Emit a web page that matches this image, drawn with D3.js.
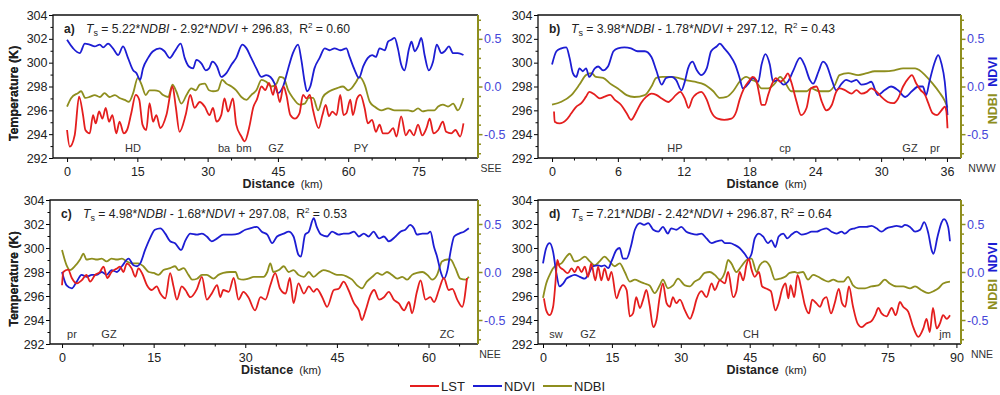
<!DOCTYPE html>
<html>
<head>
<meta charset="utf-8">
<script src="https://cdn.jsdelivr.net/npm/d3@7"></script>
<style>
  body { margin: 0; background: #fff; }
  svg text { font-family: Arial, "Liberation Sans", sans-serif; fill: #222; }
</style>
</head>
<body>
<div id="chart"></div>
<script>
var svgWidth = 1000;
var svgHeight = 395;

var red = "#e41e1e";
var blue = "#1d1dd3";
var olive = "#8e8e1e";
var nb = "\u00a0";

// ---- data: [distance km, value] ----
var lstA = [[0,294.35],[0.57,292.95],[1.64,293.93],[2.56,297.15],[3.41,295.6],[3.91,294.35],[4.84,294.07],[5.55,295.6],[6.12,294.9],[6.83,295.9],[7.54,295.3],[8.25,296.2],[8.96,295.05],[9.67,295.6],[10.5,294.07],[11.2,295.05],[12.1,294.07],[12.8,294.35],[13.7,295.75],[14.65,297.3],[15.4,296.9],[16.1,294.8],[16.9,294.35],[17.6,296.6],[18.35,295.05],[19.06,295.6],[19.9,294.5],[21.2,295.6],[22.5,298.0],[23.2,296.3],[24.0,294.2],[25.3,295.6],[26.3,297.3],[27.2,296.2],[28.3,296.7],[29.4,296.3],[30.4,295.6],[31.15,296.2],[31.9,295.05],[32.9,295.6],[33.6,297.0],[34.35,295.9],[35.4,297.0],[36.1,294.8],[37.2,293.8],[37.9,293.4],[39.0,294.8],[39.7,296.2],[40.5,296.9],[41.5,298.0],[42.3,297.7],[43.1,298.3],[43.95,297.3],[44.5,298.1],[45.4,296.7],[46.2,298.0],[46.8,297.3],[47.65,295.6],[48.6,295.3],[49.6,295.75],[50.35,297.3],[51.1,297.0],[51.8,297.3],[52.5,296.0],[53.7,294.5],[54.5,295.6],[55.2,296.45],[55.9,295.5],[56.6,295.9],[57.5,295.6],[58.3,297.3],[59.0,295.6],[59.6,295.75],[60.45,296.9],[61.0,295.6],[61.9,297.0],[62.6,297.3],[63.5,296.2],[64.2,294.9],[65.1,295.2],[65.9,294.2],[66.7,294.8],[67.4,294.07],[68.5,294.07],[69.6,294.5],[70.3,293.8],[71.3,295.5],[72.3,293.9],[73.1,294.35],[74.0,293.9],[74.9,294.8],[75.8,293.9],[76.7,294.5],[77.4,295.3],[78.2,294.07],[79.2,294.35],[80.2,295.05],[80.9,294.2],[82.0,294.07],[82.9,294.35],[83.9,293.8],[84.6,294.9]];
var ndviA = [[0,0.49],[1.3,0.40],[2.7,0.35],[3.8,0.45],[4.8,0.44],[5.9,0.42],[7.0,0.44],[7.7,0.41],[8.75,0.45],[9.8,0.40],[10.9,0.33],[11.95,0.42],[13.0,0.30],[14.1,0.17],[14.8,0.14],[15.6,0.07],[16.2,0.19],[17.3,0.30],[18.35,0.37],[19.8,0.40],[20.8,0.37],[21.9,0.30],[23.0,0.37],[24.25,0.45],[25.1,0.30],[26.0,0.21],[26.9,0.19],[27.6,0.28],[28.7,0.24],[29.6,0.17],[30.3,0.19],[31.0,0.26],[32.0,0.21],[32.9,0.10],[34.0,0.14],[35.1,0.23],[36.1,0.30],[37.4,0.44],[38.3,0.40],[39.3,0.30],[40.4,0.19],[41.5,0.10],[42.5,0.12],[43.4,0.10],[44.3,0.03],[45.0,-0.07],[46.1,0.0],[47.2,0.19],[48.2,0.35],[49.3,0.44],[50.0,0.28],[50.7,0.05],[51.2,-0.05],[51.9,0.0],[52.8,0.19],[53.9,0.30],[55.0,0.40],[56.0,0.38],[57.1,0.40],[58.3,0.38],[59.6,0.40],[60.3,0.31],[61.4,0.17],[62.3,0.09],[63.2,0.21],[64.2,0.30],[65.1,0.33],[65.9,0.31],[66.7,0.40],[67.8,0.38],[68.5,0.47],[69.2,0.49],[69.9,0.51],[70.6,0.40],[71.3,0.23],[72.0,0.17],[73.0,0.40],[73.5,0.47],[74.2,0.37],[74.9,0.42],[75.6,0.51],[76.3,0.33],[77.2,0.17],[78.1,0.26],[78.9,0.44],[79.9,0.35],[80.6,0.37],[81.5,0.42],[82.4,0.35],[83.4,0.35],[84.6,0.33]];
var ndbiA = [[0,-0.21],[0.9,-0.12],[2.3,-0.07],[3.0,-0.05],[3.9,-0.12],[4.8,-0.11],[5.9,-0.09],[7.0,-0.11],[8.0,-0.07],[9.1,-0.11],[10.2,-0.09],[11.2,-0.12],[12.3,-0.14],[13.2,-0.16],[14.1,-0.07],[15.1,0.09],[15.9,0.02],[16.8,-0.09],[17.6,-0.04],[18.7,-0.04],[19.6,-0.05],[20.5,-0.09],[21.6,-0.11],[22.5,0.02],[23.3,-0.05],[24.4,-0.18],[25.5,-0.09],[26.5,-0.02],[27.5,-0.04],[28.3,0.02],[29.4,0.03],[30.3,-0.04],[31.15,-0.05],[32.2,-0.04],[33.1,0.07],[34.0,0.03],[35.1,0.0],[36.1,-0.04],[37.2,-0.11],[38.3,-0.14],[39.3,-0.09],[40.4,-0.04],[41.5,0.07],[42.5,0.05],[43.6,0.0],[44.7,0.03],[45.4,0.10],[46.2,0.09],[47.2,-0.04],[48.2,-0.12],[49.6,-0.19],[50.7,-0.18],[51.6,-0.12],[52.5,-0.12],[53.6,-0.25],[54.6,-0.11],[56.0,-0.05],[57.5,-0.02],[58.9,0.0],[60.0,-0.04],[60.7,-0.02],[61.7,0.05],[62.4,0.10],[63.5,0.02],[64.6,-0.16],[65.6,-0.21],[67.1,-0.25],[68.5,-0.23],[69.9,-0.25],[71.3,-0.25],[72.8,-0.25],[73.8,-0.26],[74.9,-0.23],[75.9,-0.26],[77.0,-0.25],[78.4,-0.25],[79.2,-0.21],[80.2,-0.19],[81.3,-0.21],[82.4,-0.18],[83.4,-0.25],[84.6,-0.12]];

var lstB = [[0.18,295.9],[0.24,295.05],[0.7,294.9],[1.3,295.2],[1.76,295.75],[2.2,296.3],[2.67,296.6],[3.1,297.15],[3.4,297.55],[3.9,297.3],[4.35,297.0],[4.8,297.15],[5.3,297.3],[5.7,296.9],[6.3,296.45],[6.8,295.75],[7.2,295.2],[7.7,295.9],[8.1,296.6],[8.6,297.15],[9.06,297.4],[9.5,297.3],[10.0,297.0],[10.6,296.7],[10.9,296.9],[11.3,297.3],[11.7,297.55],[12.1,297.0],[12.45,296.2],[12.8,297.0],[13.2,297.4],[13.6,297.55],[14.1,296.9],[14.5,295.9],[15.1,295.3],[15.7,295.2],[16.35,295.3],[16.8,295.9],[17.1,296.9],[17.5,297.85],[17.9,298.4],[18.3,298.8],[18.6,298.55],[18.9,297.3],[19.1,296.45],[19.4,296.45],[19.7,297.3],[20.0,298.1],[20.4,298.7],[20.8,298.4],[21.2,298.7],[21.5,299.1],[21.8,298.4],[22.3,296.7],[22.7,295.6],[23.2,296.2],[23.6,297.85],[24.1,298.0],[24.6,296.7],[25.0,296.0],[25.5,296.45],[25.9,297.55],[26.2,297.85],[26.7,297.7],[27.3,297.4],[27.75,297.7],[28.2,297.4],[28.7,297.55],[29.1,297.85],[29.6,297.55],[30.0,297.15],[30.6,296.7],[31.1,296.6],[31.55,297.0],[32.0,298.0],[32.5,298.7],[32.8,298.95],[33.2,298.25],[33.6,297.7],[34.0,297.3],[34.3,296.6],[34.7,295.75],[35.1,295.6],[35.5,296.0],[35.8,296.3],[35.95,295.9],[36.05,294.5]];
var ndviB = [[0,0.23],[0.4,0.37],[0.85,0.40],[1.3,0.41],[1.6,0.30],[1.9,0.14],[2.2,0.10],[2.5,0.19],[2.8,0.16],[3.1,0.19],[3.4,0.10],[3.9,0.19],[4.2,0.21],[4.65,0.17],[5.1,0.21],[5.6,0.37],[6.0,0.40],[6.6,0.41],[7.2,0.40],[7.8,0.37],[8.45,0.37],[9.06,0.31],[9.5,0.17],[10.0,0.02],[10.4,0.09],[10.9,0.10],[11.3,0.07],[11.8,-0.04],[12.1,0.05],[12.4,0.19],[12.8,0.26],[13.2,0.17],[13.6,0.12],[14.1,0.19],[14.5,0.37],[15.0,0.42],[15.3,0.45],[15.7,0.40],[16.2,0.33],[16.7,0.23],[17.1,0.09],[17.4,-0.02],[17.9,0.03],[18.3,0.09],[18.8,0.05],[19.1,0.23],[19.45,0.34],[19.85,0.23],[20.15,0.05],[20.6,0.07],[21.1,0.02],[21.5,0.05],[22.0,0.17],[22.6,0.30],[23.0,0.23],[23.5,0.07],[23.8,0.03],[24.3,0.16],[24.7,0.26],[25.0,0.23],[25.5,0.07],[25.9,-0.04],[26.4,0.03],[26.8,0.07],[27.3,0.05],[27.75,0.07],[28.2,0.02],[28.7,0.03],[29.1,0.05],[29.7,-0.09],[30.3,-0.04],[30.9,0.0],[31.55,-0.04],[32.2,-0.11],[32.8,-0.05],[33.4,0.0],[33.8,0.0],[34.1,-0.09],[34.4,0.05],[34.9,0.26],[35.2,0.33],[35.5,0.24],[35.8,0.05],[36.05,-0.3]];
var ndbiB = [[0,-0.19],[0.85,-0.16],[1.76,-0.09],[2.5,0.02],[3.1,0.12],[3.6,0.14],[4.0,0.10],[4.65,0.09],[5.3,0.03],[6.0,-0.02],[6.8,-0.09],[7.5,-0.11],[8.45,-0.09],[9.06,0.0],[9.5,0.09],[10.1,0.10],[10.9,0.10],[11.5,0.09],[12.1,0.07],[13.0,0.05],[13.9,0.02],[14.7,-0.05],[15.3,-0.12],[15.9,-0.11],[16.5,-0.05],[17.1,0.05],[17.7,0.10],[18.2,0.07],[18.6,0.05],[19.1,-0.02],[19.7,-0.02],[20.3,0.03],[20.8,0.10],[21.2,0.05],[21.8,-0.05],[22.6,-0.05],[23.2,-0.05],[23.6,-0.02],[24.4,-0.05],[25.2,-0.05],[25.8,0.02],[26.2,0.12],[27.0,0.14],[27.9,0.12],[28.7,0.14],[29.4,0.16],[30.3,0.16],[31.2,0.17],[32.0,0.19],[32.6,0.19],[33.1,0.19],[33.5,0.17],[34.0,0.12],[34.7,0.03],[35.3,-0.06],[35.8,-0.15],[36.05,-0.22]];

var lstC = [[0,296.9],[0.2,298.0],[1.0,298.2],[1.6,297.5],[2.4,297.05],[3.2,297.3],[4.0,297.75],[4.6,297.2],[5.4,297.75],[6.2,298.0],[6.8,298.45],[7.4,297.5],[8.1,298.0],[9.0,298.3],[9.5,298.45],[10.05,298.0],[10.6,298.7],[11.4,298.3],[12.0,297.6],[12.5,298.3],[13.1,297.9],[13.9,296.9],[14.7,296.5],[15.5,296.8],[16.1,296.2],[16.9,295.8],[17.7,297.9],[18.25,296.8],[18.8,295.7],[19.6,296.8],[20.2,296.5],[21.0,295.9],[22.1,296.6],[22.9,297.6],[23.7,295.7],[24.5,296.2],[25.4,296.9],[25.9,295.9],[26.4,296.5],[27.3,296.35],[28.1,297.5],[28.9,295.7],[29.7,296.35],[30.5,295.9],[31.6,294.8],[32.5,295.9],[33.3,295.7],[34.1,296.9],[34.9,297.9],[35.7,296.6],[36.6,296.2],[37.3,297.5],[37.9,295.4],[38.7,297.05],[39.6,296.2],[40.4,296.8],[41.2,296.35],[41.7,296.6],[42.6,295.9],[43.4,295.1],[44.5,296.5],[45.3,296.6],[46.1,297.2],[46.9,296.5],[47.8,295.4],[48.6,294.8],[49.1,294.0],[49.7,294.8],[50.5,296.1],[51.1,296.5],[51.9,295.7],[52.7,295.9],[53.5,296.35],[54.3,295.7],[55.1,295.4],[56.0,294.8],[56.8,295.5],[57.3,294.55],[58.1,296.35],[58.7,297.3],[59.5,295.7],[60.3,295.9],[60.9,295.5],[61.7,296.5],[62.5,297.5],[63.3,296.5],[63.9,296.6],[64.7,295.7],[65.5,295.1],[66.3,297.5]];
var ndviC = [[0,0.0],[0.75,-0.14],[1.6,-0.17],[2.4,-0.10],[3.2,-0.03],[4.0,-0.05],[4.9,-0.03],[5.7,-0.03],[6.5,0.0],[7.3,-0.03],[8.1,0.02],[9.0,0.0],[9.8,0.06],[10.9,0.14],[11.7,0.07],[12.3,0.06],[12.8,0.09],[13.6,0.23],[14.4,0.35],[15.2,0.44],[16.1,0.455],[16.9,0.40],[17.7,0.32],[18.5,0.30],[19.5,0.23],[20.2,0.33],[21.0,0.40],[22.1,0.39],[22.9,0.40],[23.7,0.37],[24.5,0.32],[25.4,0.35],[26.4,0.39],[27.8,0.39],[28.9,0.40],[30.0,0.44],[30.8,0.455],[31.9,0.47],[32.7,0.42],[33.6,0.39],[34.4,0.30],[35.2,0.37],[36.3,0.40],[37.1,0.42],[37.9,0.37],[38.7,0.18],[39.1,0.16],[39.8,0.39],[40.4,0.42],[41.2,0.56],[41.7,0.47],[42.4,0.39],[43.4,0.37],[44.2,0.42],[45.3,0.39],[46.1,0.40],[46.9,0.40],[47.8,0.42],[48.6,0.37],[49.4,0.40],[50.2,0.37],[51.0,0.42],[51.9,0.35],[52.7,0.37],[53.5,0.32],[54.6,0.37],[55.4,0.42],[56.2,0.44],[57.0,0.49],[57.6,0.455],[58.1,0.39],[59.0,0.40],[59.8,0.40],[60.3,0.42],[60.9,0.26],[61.4,0.16],[62.0,0.0],[62.5,-0.07],[63.1,0.02],[63.6,0.21],[64.2,0.37],[65.0,0.40],[65.8,0.42],[66.6,0.455]];
var ndbiC = [[0,0.23],[0.75,0.07],[1.3,0.02],[2.1,0.06],[2.95,0.13],[3.5,0.19],[4.0,0.13],[4.9,0.14],[5.7,0.13],[6.5,0.14],[7.3,0.11],[8.1,0.14],[9.0,0.13],[9.8,0.14],[10.6,0.11],[11.4,0.09],[12.5,0.09],[13.3,0.06],[14.2,0.0],[15.0,-0.01],[15.8,-0.03],[16.6,0.02],[17.7,0.04],[18.5,0.06],[19.1,0.02],[19.9,0.04],[20.7,-0.03],[21.3,-0.08],[22.1,-0.07],[22.9,-0.03],[23.7,-0.03],[24.8,-0.07],[25.6,-0.03],[26.4,-0.01],[27.5,0.0],[28.4,0.0],[28.9,-0.07],[29.7,-0.08],[30.5,-0.07],[31.4,-0.05],[32.2,-0.05],[33.0,-0.05],[33.6,0.0],[34.1,0.09],[34.6,0.0],[35.5,0.02],[36.3,0.06],[37.1,0.0],[37.9,0.02],[38.7,-0.03],[39.6,-0.05],[40.4,0.0],[41.2,-0.05],[42.0,-0.01],[42.8,0.02],[43.9,0.0],[45.0,-0.03],[45.8,-0.03],[46.7,-0.05],[47.5,-0.08],[48.3,-0.14],[49.1,-0.17],[49.9,-0.10],[50.8,-0.05],[51.6,-0.01],[52.4,-0.03],[53.2,0.0],[54.0,-0.03],[54.9,-0.07],[55.7,-0.05],[56.5,-0.08],[57.3,-0.03],[58.1,-0.01],[59.0,0.0],[59.8,-0.03],[60.6,-0.08],[61.4,-0.03],[62.2,0.11],[63.1,0.13],[63.6,0.13],[64.4,0.04],[65.2,-0.07],[66.1,-0.08],[66.6,-0.05]];

var lstD = [[0.2,295.8],[0.7,294.8],[1.45,294.4],[2.2,295.1],[2.7,297.05],[3.1,299.0],[3.6,298.45],[4.4,298.2],[5.4,297.9],[6.2,298.3],[6.9,298.0],[7.6,298.45],[8.4,298.0],[9.1,298.45],[9.8,297.6],[10.5,298.7],[11.4,297.3],[12.0,298.45],[12.7,297.3],[13.4,298.3],[14.2,297.3],[14.9,298.0],[16.0,295.8],[16.7,296.5],[17.4,296.9],[18.2,296.5],[18.9,294.3],[19.6,294.55],[20.3,295.9],[21.1,295.0],[21.8,295.7],[22.5,296.5],[23.2,295.25],[24.0,293.4],[24.7,294.0],[25.4,295.9],[26.1,297.05],[26.9,295.4],[27.6,295.1],[28.3,295.9],[29.0,295.4],[29.8,295.7],[30.9,294.8],[32.0,294.1],[32.7,294.7],[33.4,295.7],[34.5,296.4],[35.6,295.9],[36.7,297.05],[37.4,296.5],[38.5,297.3],[39.6,297.05],[40.3,298.0],[41.4,295.9],[42.1,296.4],[42.8,298.0],[43.6,297.3],[44.3,298.6],[44.8,299.1],[45.4,298.2],[46.1,297.6],[47.0,298.0],[47.7,296.8],[48.7,296.6],[49.6,296.4],[50.6,294.8],[51.3,295.4],[52.1,296.6],[52.8,297.05],[53.4,295.8],[53.9,296.9],[54.7,295.9],[55.4,297.75],[56.3,296.5],[57.0,295.25],[57.9,294.55],[58.6,295.7],[59.5,295.4],[60.3,295.1],[61.0,295.7],[61.7,295.9],[62.7,294.55],[63.5,295.4],[64.4,296.6],[65.1,295.4],[65.8,295.1],[66.6,296.8],[67.5,295.1],[68.5,293.7],[69.4,293.4],[70.4,293.7],[71.5,293.9],[72.3,294.4],[73.0,295.0],[73.7,294.55],[74.8,294.3],[75.9,295.0],[76.8,294.4],[77.7,295.5],[78.4,295.1],[79.5,294.7],[80.6,293.4],[81.7,292.6],[82.8,293.3],[83.5,294.1],[84.2,293.0],[84.9,295.0],[85.7,293.3],[86.4,293.7],[87.1,294.4],[87.9,294.1],[88.6,294.4]];
var ndviD = [[0,0.09],[0.7,0.25],[1.45,0.30],[2.2,0.21],[2.9,-0.01],[3.6,-0.15],[4.4,-0.12],[5.1,-0.07],[5.8,-0.05],[6.9,-0.03],[8.0,-0.05],[9.1,-0.07],[9.8,-0.03],[10.9,0.06],[12.0,0.07],[12.7,0.06],[13.4,0.07],[14.2,0.04],[14.9,0.11],[16.0,0.23],[16.7,0.25],[17.4,0.14],[18.2,0.14],[19.1,0.26],[20.0,0.44],[21.1,0.51],[22.0,0.49],[22.9,0.51],[24.0,0.44],[25.1,0.42],[26.1,0.47],[27.2,0.40],[27.9,0.455],[29.0,0.44],[30.1,0.47],[31.2,0.42],[32.3,0.40],[33.4,0.39],[34.5,0.40],[35.6,0.35],[36.7,0.30],[37.8,0.32],[38.9,0.33],[39.6,0.30],[40.7,0.30],[41.8,0.28],[42.8,0.25],[43.9,0.19],[44.7,0.14],[45.4,0.19],[46.1,0.35],[47.0,0.40],[47.9,0.37],[49.0,0.30],[49.7,0.33],[50.6,0.26],[51.3,0.37],[52.3,0.40],[53.2,0.35],[54.1,0.39],[55.2,0.42],[56.3,0.39],[57.4,0.40],[58.5,0.42],[59.5,0.42],[60.6,0.44],[61.7,0.455],[62.8,0.42],[63.9,0.40],[65.0,0.42],[65.7,0.40],[66.8,0.44],[67.9,0.455],[69.0,0.47],[70.4,0.47],[71.5,0.48],[72.6,0.455],[73.7,0.42],[74.8,0.455],[75.9,0.47],[77.0,0.48],[78.1,0.47],[78.8,0.49],[79.9,0.47],[81.0,0.42],[82.1,0.44],[83.0,0.52],[83.9,0.40],[84.6,0.23],[85.0,0.19],[85.9,0.37],[86.8,0.52],[87.3,0.55],[88.2,0.47],[88.6,0.32]];
var ndbiD = [[0,-0.27],[0.7,-0.12],[1.45,-0.03],[2.2,0.04],[2.9,0.07],[4.0,0.09],[5.1,0.16],[5.8,0.19],[6.9,0.11],[8.0,0.125],[9.1,0.16],[10.2,0.11],[11.3,0.07],[12.3,0.11],[13.4,0.16],[14.5,0.11],[15.6,0.06],[16.7,0.09],[17.8,0.0],[18.9,-0.10],[20.0,-0.08],[21.1,-0.10],[22.1,-0.12],[23.2,-0.14],[24.3,-0.22],[25.4,-0.14],[26.1,-0.08],[27.2,-0.17],[28.3,-0.14],[29.4,-0.07],[30.9,-0.14],[32.0,-0.15],[33.0,-0.10],[34.1,-0.07],[35.2,-0.01],[36.3,0.0],[37.4,-0.03],[38.5,-0.08],[39.6,0.0],[40.3,0.125],[41.0,0.09],[42.1,0.0],[43.2,0.06],[44.3,0.125],[45.4,0.14],[46.5,0.0],[47.2,0.07],[48.3,0.11],[49.4,0.06],[50.5,-0.08],[51.6,-0.07],[52.7,-0.05],[53.7,-0.01],[54.8,0.0],[55.5,-0.01],[56.6,0.0],[57.7,-0.08],[58.8,-0.03],[59.9,-0.05],[61.0,-0.08],[62.1,-0.10],[63.2,-0.08],[64.3,-0.10],[65.4,-0.10],[66.4,-0.05],[67.5,-0.14],[68.6,-0.17],[70.1,-0.17],[71.5,-0.15],[73.0,-0.14],[74.4,-0.08],[75.5,-0.12],[77.0,-0.15],[78.4,-0.15],[79.9,-0.17],[81.0,-0.15],[82.4,-0.19],[83.9,-0.22],[85.0,-0.20],[86.1,-0.17],[87.1,-0.12],[88.6,-0.10]];

// tick values
var tempTicks = [292, 294, 296, 298, 300, 302, 304];
var indexTicks = [-0.5, 0.0, 0.5];
var distTicksA = [0, 15, 30, 45, 60, 75];
var distTicksB = [0, 6, 12, 18, 24, 30, 36];
var distTicksC = [0, 15, 30, 45, 60];
var distTicksD = [0, 15, 30, 45, 60, 75, 90];

var panels = [
  { tag: "a)", coef: ["5.22", "2.92", "296.83", "0.60"], sep: "," + nb + nb,
    left: 53, right: 478, top: 15, bottom: 158, xDomain: [-3, 87.7], xTicks: distTicksA, minorStep: 5,
    lst: lstA, ndvi: ndviA, ndbi: ndbiA, dir: "SEE", dirX: 491, rightTitle: false,
    places: [["HD", 133], ["ba", 224], ["bm", 244], ["GZ", 276], ["PY", 361]] },
  { tag: "b)", coef: ["3.98", "1.78", "297.12", "0.43"], sep: "," + nb + nb,
    left: 538, right: 961, top: 15, bottom: 158, xDomain: [-1.28, 37.28], xTicks: distTicksB, minorStep: 2,
    lst: lstB, ndvi: ndviB, ndbi: ndbiB, dir: "NWW", dirX: 982, rightTitle: true,
    places: [["HP", 675], ["cp", 785], ["GZ", 910], ["pr", 935]] },
  { tag: "c)", coef: ["4.98", "1.68", "297.08", "0.53"], sep: "," + nb + nb,
    left: 50, right: 478, top: 200, bottom: 344, xDomain: [-1.97, 68.1], xTicks: distTicksC, minorStep: 5,
    lst: lstC, ndvi: ndviC, ndbi: ndbiC, dir: "NEE", dirX: 490, rightTitle: false,
    places: [["pr", 72], ["GZ", 109], ["ZC", 447]] },
  { tag: "d)", coef: ["7.21", "2.42", "296.87", "0.64"], sep: "," + nb,
    left: 538, right: 961, top: 200, bottom: 344, xDomain: [-1.09, 91.0], xTicks: distTicksD, minorStep: 5,
    lst: lstD, ndvi: ndviD, ndbi: ndbiD, dir: "NNE", dirX: 982, rightTitle: true,
    places: [["sw", 556], ["GZ", 588], ["CH", 751], ["jm", 945]] }
];

var svg = d3.select("#chart")
  .append("svg")
  .attr("width", svgWidth)
  .attr("height", svgHeight);

function drawPanel(p) {
  var g = svg.append("g");

  var x = d3.scaleLinear().domain(p.xDomain).range([p.left, p.right]);
  var yT = d3.scaleLinear().domain([292, 304]).range([p.bottom, p.top]);
  var yI = d3.scaleLinear().domain([-0.75, 0.75]).range([p.bottom, p.top]);

  // minor ticks
  var xMinor = d3.range(0, p.xDomain[1], p.minorStep).filter(d => p.xTicks.indexOf(d) < 0);
  var tMinor = d3.range(293, 304, 2);
  var iMinor = d3.range(-7, 8).map(d => d / 10).filter(d => Math.abs(d) != 0.5 && d != 0);

  g.append("g")
    .attr("transform", `translate(0,${p.bottom})`)
    .call(d3.axisBottom(x).tickValues(xMinor).tickSize(2.5).tickFormat(""))
    .call(a => a.select(".domain").remove());
  var xAxis = g.append("g")
    .attr("transform", `translate(0,${p.bottom})`)
    .call(d3.axisBottom(x).tickValues(p.xTicks).tickSize(4).tickPadding(5).tickFormat(d3.format("d")));
  xAxis.select(".domain").remove();
  xAxis.selectAll("text").style("font-size", "12.5px").attr("fill", "#222");

  g.append("g")
    .attr("transform", `translate(${p.left},0)`)
    .call(d3.axisLeft(yT).tickValues(tMinor).tickSize(2.5).tickFormat(""))
    .call(a => a.select(".domain").remove());
  var yAxis = g.append("g")
    .attr("transform", `translate(${p.left},0)`)
    .call(d3.axisLeft(yT).tickValues(tempTicks).tickSize(4).tickPadding(1.5));
  yAxis.select(".domain").remove();
  yAxis.selectAll("text").style("font-size", "12.5px").attr("fill", "#222");

  g.append("g")
    .attr("transform", `translate(${p.right},0)`)
    .call(d3.axisRight(yI).tickValues(iMinor).tickSize(3).tickFormat(""))
    .call(a => a.select(".domain").remove())
    .selectAll("line").attr("stroke", olive).attr("stroke-width", 1.5);
  var rAxis = g.append("g")
    .attr("transform", `translate(${p.right},0)`)
    .call(d3.axisRight(yI).tickValues(indexTicks).tickSize(4.5).tickPadding(1.5).tickFormat(d => d.toFixed(1)));
  rAxis.select(".domain").remove();
  rAxis.selectAll("line").attr("stroke", olive).attr("stroke-width", 1.5);
  rAxis.selectAll("text").style("font-size", "12.5px").style("fill", "#4646d8");

  // frame
  g.append("path")
    .attr("d", `M${p.right},${p.top}H${p.left}V${p.bottom}H${p.right}`)
    .attr("fill", "none")
    .attr("stroke", "#111")
    .attr("stroke-width", 1.3);
  g.append("line")
    .attr("x1", p.right).attr("x2", p.right)
    .attr("y1", p.top).attr("y2", p.bottom)
    .attr("stroke", olive)
    .attr("stroke-width", 2);

  // curves
  var lineT = d3.line().x(d => x(d[0])).y(d => yT(d[1])).curve(d3.curveMonotoneX);
  var lineI = d3.line().x(d => x(d[0])).y(d => yI(d[1])).curve(d3.curveMonotoneX);
  [[p.ndbi, olive, lineI], [p.ndvi, blue, lineI], [p.lst, red, lineT]].forEach(function(s) {
    g.append("path")
      .datum(s[0])
      .attr("d", s[2])
      .attr("fill", "none")
      .attr("stroke", s[1])
      .attr("stroke-width", 1.8)
      .attr("stroke-linejoin", "round");
  });

  // equation
  g.append("text")
    .attr("x", p.left + 11)
    .attr("y", p.top + 18)
    .style("font-size", "12px")
    .style("font-weight", "bold")
    .text(p.tag);
  var eq = g.append("text")
    .attr("x", p.left + 33)
    .attr("y", p.top + 18)
    .style("font-size", "12.2px");
  eq.append("tspan").style("font-style", "italic").text("T");
  eq.append("tspan").attr("dy", 3).style("font-size", "9px").text("s");
  eq.append("tspan").attr("dy", -3).text(" = " + p.coef[0] + "*");
  eq.append("tspan").style("font-style", "italic").text("NDBI");
  eq.append("tspan").text(" - " + p.coef[1] + "*");
  eq.append("tspan").style("font-style", "italic").text("NDVI");
  eq.append("tspan").text(" + " + p.coef[2] + p.sep + "R");
  eq.append("tspan").attr("dy", -5).style("font-size", "8px").text("2");
  eq.append("tspan").attr("dy", 5).text(" = " + p.coef[3]);

  // place names
  g.selectAll(".place")
    .data(p.places)
    .enter()
    .append("text")
    .attr("x", d => d[1])
    .attr("y", p.bottom - 6)
    .attr("text-anchor", "middle")
    .style("font-size", "11px")
    .style("fill", "#333")
    .text(d => d[0]);

  // direction label
  g.append("text")
    .attr("x", p.dirX)
    .attr("y", p.bottom + 14)
    .attr("text-anchor", "middle")
    .style("font-size", "10.5px")
    .style("fill", "#333")
    .text(p.dir);

  // axis titles
  var xt = g.append("text")
    .attr("x", (p.left + p.right) / 2 - 23)
    .attr("y", p.bottom + 30);
  xt.append("tspan").style("font-weight", "bold").style("font-size", "12.5px").text("Distance");
  xt.append("tspan").style("font-size", "11px").text(nb + nb + "(km)");

  g.append("text")
    .attr("transform", `translate(${18},${(p.top + p.bottom) / 2 + 7}) rotate(-90)`)
    .attr("text-anchor", "middle")
    .style("font-weight", "bold")
    .style("font-size", "12.5px")
    .text("Temperature (K)");

  if (p.rightTitle) {
    var rt = g.append("text")
      .attr("transform", `translate(${p.right + 36},${(p.top + p.bottom) / 2 + 4}) rotate(-90)`)
      .attr("text-anchor", "middle")
      .style("font-weight", "bold")
      .style("font-size", "12.5px");
    rt.append("tspan").style("fill", olive).text("NDBI");
    rt.append("tspan").text(nb + nb);
    rt.append("tspan").style("fill", blue).text("NDVI");
  }
}

panels.forEach(drawPanel);

// legend
var legendItems = [["LST", red, 410], ["NDVI", blue, 473], ["NDBI", olive, 543]];
var legend = svg.append("g").attr("transform", "translate(0,386)");
legendItems.forEach(function(d) {
  legend.append("line")
    .attr("x1", d[2]).attr("x2", d[2] + 29)
    .attr("y1", 0).attr("y2", 0)
    .attr("stroke", d[1])
    .attr("stroke-width", 2);
  legend.append("text")
    .attr("x", d[2] + 31)
    .attr("y", 4.5)
    .style("font-size", "13px")
    .text(d[0]);
});
</script>
</body>
</html>
